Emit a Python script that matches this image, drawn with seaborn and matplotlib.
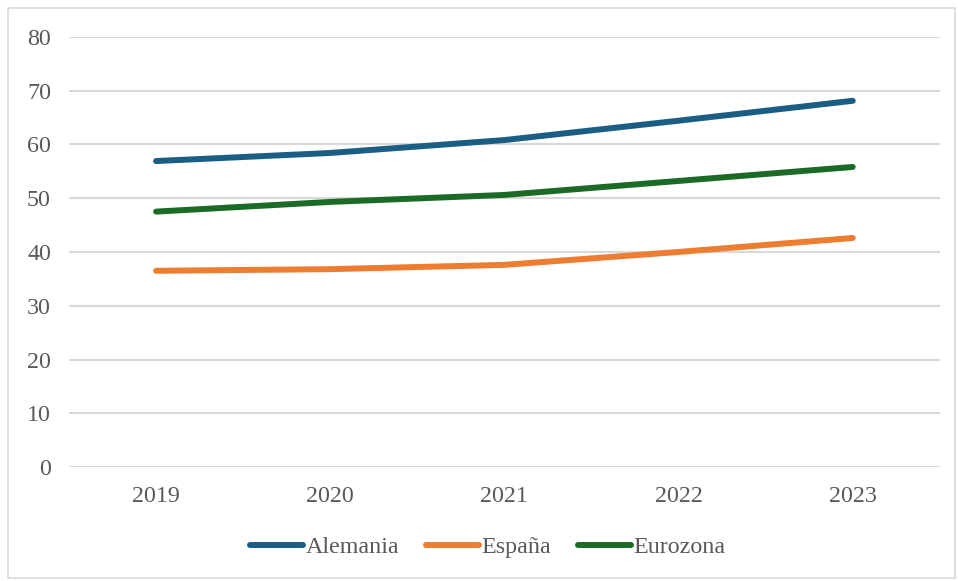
import matplotlib
matplotlib.use("Agg")
import matplotlib.pyplot as plt
from matplotlib.patches import Rectangle
import seaborn as sns
import pandas as pd

years = ["2019", "2020", "2021", "2022", "2023"]
alemania = [56.9, 58.4, 60.8, 64.4, 68.1]
espana = [36.5, 36.8, 37.6, 40.0, 42.6]
eurozona = [47.5, 49.3, 50.6, 53.2, 55.8]
series_names = ["Alemania", "España", "Eurozona"]
colors = ["#1B5E84", "#ED7D31", "#1B6B26"]
y_ticks = [0, 10, 20, 30, 40, 50, 60, 70, 80]

df = pd.DataFrame({
    "Año": years * 3,
    "Valor": alemania + espana + eurozona,
    "Serie": [s for s in series_names for _ in years],
})

sns.set_theme(style="white")
plt.rcParams["font.family"] = ["Liberation Serif", "DejaVu Serif"]

fig = plt.figure(figsize=(9.58, 5.81), dpi=100)
ax = fig.add_axes([0.072, 0.196, 0.909, 0.7407])

sns.lineplot(data=df, x="Año", y="Valor", hue="Serie", hue_order=series_names,
             palette=colors, linewidth=4.3, ax=ax, sort=False,
             solid_capstyle="round")

ax.set_xlim(-0.5, len(years) - 0.5)
ax.set_ylim(0, 80)
ax.set_yticks(y_ticks)
ax.yaxis.grid(True, color="#D9D9D9", linewidth=1.5)
ax.xaxis.grid(False)
ax.set_axisbelow(True)
for s in ax.spines.values():
    s.set_visible(False)
ax.set_xlabel("")
ax.set_ylabel("")
ax.tick_params(axis="both", length=0, labelsize=17.3, labelcolor="#595959")
ax.tick_params(axis="y", pad=13)
ax.tick_params(axis="x", pad=13.5)

for line in ax.get_lines():
    line.set_solid_capstyle("round")

leg = ax.legend(loc="center", bbox_to_anchor=(0.481, -0.186), ncol=3,
                frameon=False, fontsize=17.3, handlelength=2.2,
                handletextpad=0.12, columnspacing=1.1)
for h in leg.get_lines():
    h.set_linewidth(4.3)
    h.set_solid_capstyle("round")
for t in leg.get_texts():
    t.set_color("#595959")

fig.patches.append(Rectangle((8 / 958, 3 / 581), 947 / 958, 570 / 581,
                             transform=fig.transFigure, fill=False,
                             edgecolor="#D9D9D9", linewidth=1.2))

fig.savefig("out.png", dpi=100, facecolor="white")
